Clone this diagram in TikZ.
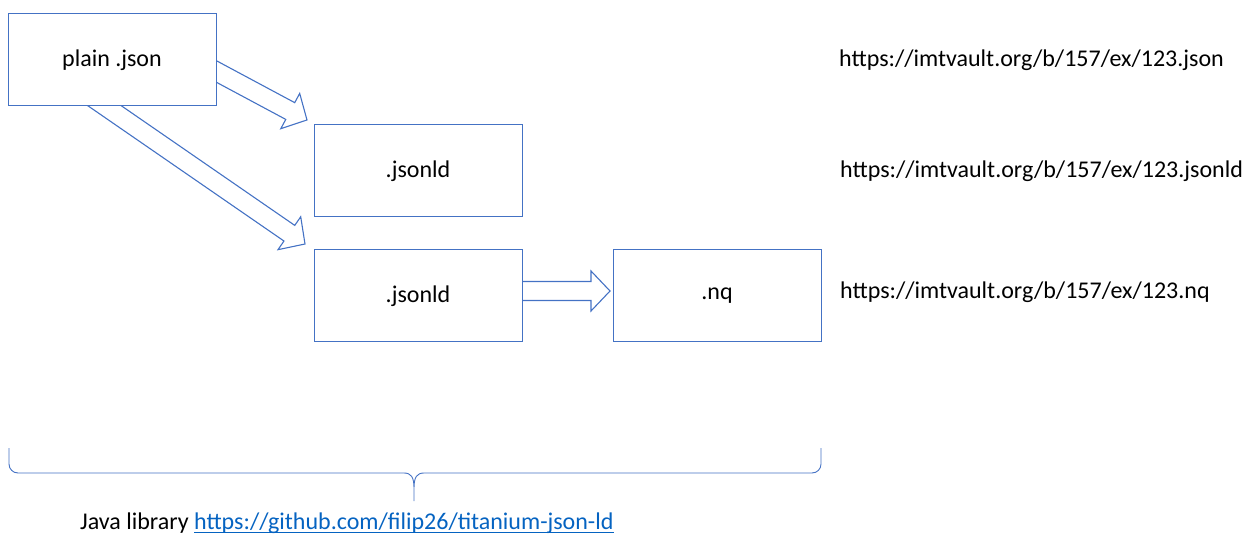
\documentclass[tikz,border=0pt]{standalone}
\usepackage{fontspec}
\setmainfont{Carlito}
\usepackage{tikz}
\usepackage{xcolor}
\usetikzlibrary{
    calc,
    positioning
}
\definecolor{officeblue}{HTML}{4472C4}
\definecolor{linkblue}{HTML}{0563C1}
\newcommand{\linkline}[1]{\setbox0\hbox{#1}\rlap{\rule[-4pt]{\wd0}{1.6pt}}\box0}
\newcommand{\blockarrow}[2]{%
    \coordinate (hb) at ($(#2)!19pt!(#1)$);
    \draw[blockline]
    ($(#1)!9.5pt!90:(#2)$) -- ($(hb)!9.5pt!90:(#2)$) -- ($(hb)!20pt!90:(#2)$) -- (#2)
    -- ($(hb)!20pt!-90:(#2)$) -- ($(hb)!9.5pt!-90:(#2)$) -- ($(#1)!9.5pt!-90:(#2)$);
}
\tikzset{
    fmt/.style={draw=officeblue, line width=1pt, fill=white, minimum width=208pt, minimum height=92pt, inner sep=0pt, text depth=2pt},
    blockline/.style={draw=officeblue, line width=1.1pt, line join=miter},
    every node/.style={font=\fontsize{24}{29}\selectfont}
}

\begin{document}
\begin{tikzpicture}[x=1pt, y=-1pt]
    \useasboundingbox (0, 0) rectangle (1247, 546);

    % tails and tips of the block arrows
    \coordinate (a1) at (180, 52);
    \coordinate (b1) at (307, 120);
    \coordinate (a2) at (60, 75);
    \coordinate (b2) at (305, 244);
    \coordinate (a3) at (480, 291);
    \coordinate (b3) at (610, 291);

    \blockarrow{a1}{b1}
    \blockarrow{a2}{b2}
    \blockarrow{a3}{b3}

    \node[fmt] (plain) at (112, 59) {plain .json};
    \node[fmt] (ld1) at (418, 170) {.jsonld};
    \node[fmt] (ld2) at (418, 295) {.jsonld};
    \node[fmt] (nq) at (717, 295) {.nq};

    \node[anchor=west, inner sep=0pt] (url1) at (839, 60) {https://imtvault.org/b/157/ex/123.json};
    \node[anchor=west, inner sep=0pt] (url2) at (840, 171) {https://imtvault.org/b/157/ex/123.jsonld};
    \node[anchor=west, inner sep=0pt] (url3) at (840, 292) {https://imtvault.org/b/157/ex/123.nq};

    % brace under the boxes
    \draw[officeblue, line width=0.9pt]
    (9, 448) -- (9, 464) to[out=-90, in=180] (18, 473) -- (404, 473)
    .. controls (411, 473) and (414, 477) .. (414, 488) -- (414, 501)
    (821, 448) -- (821, 464) to[out=-90, in=0] (812, 473) -- (424, 473)
    .. controls (417, 473) and (414, 477) .. (414, 488);

    \node[anchor=west, inner sep=0pt] (lib) at (80, 523)
    {Java library \textcolor{linkblue}{\linkline{https://github.com/filip26/titanium-json-ld}}};
\end{tikzpicture}
\end{document}
